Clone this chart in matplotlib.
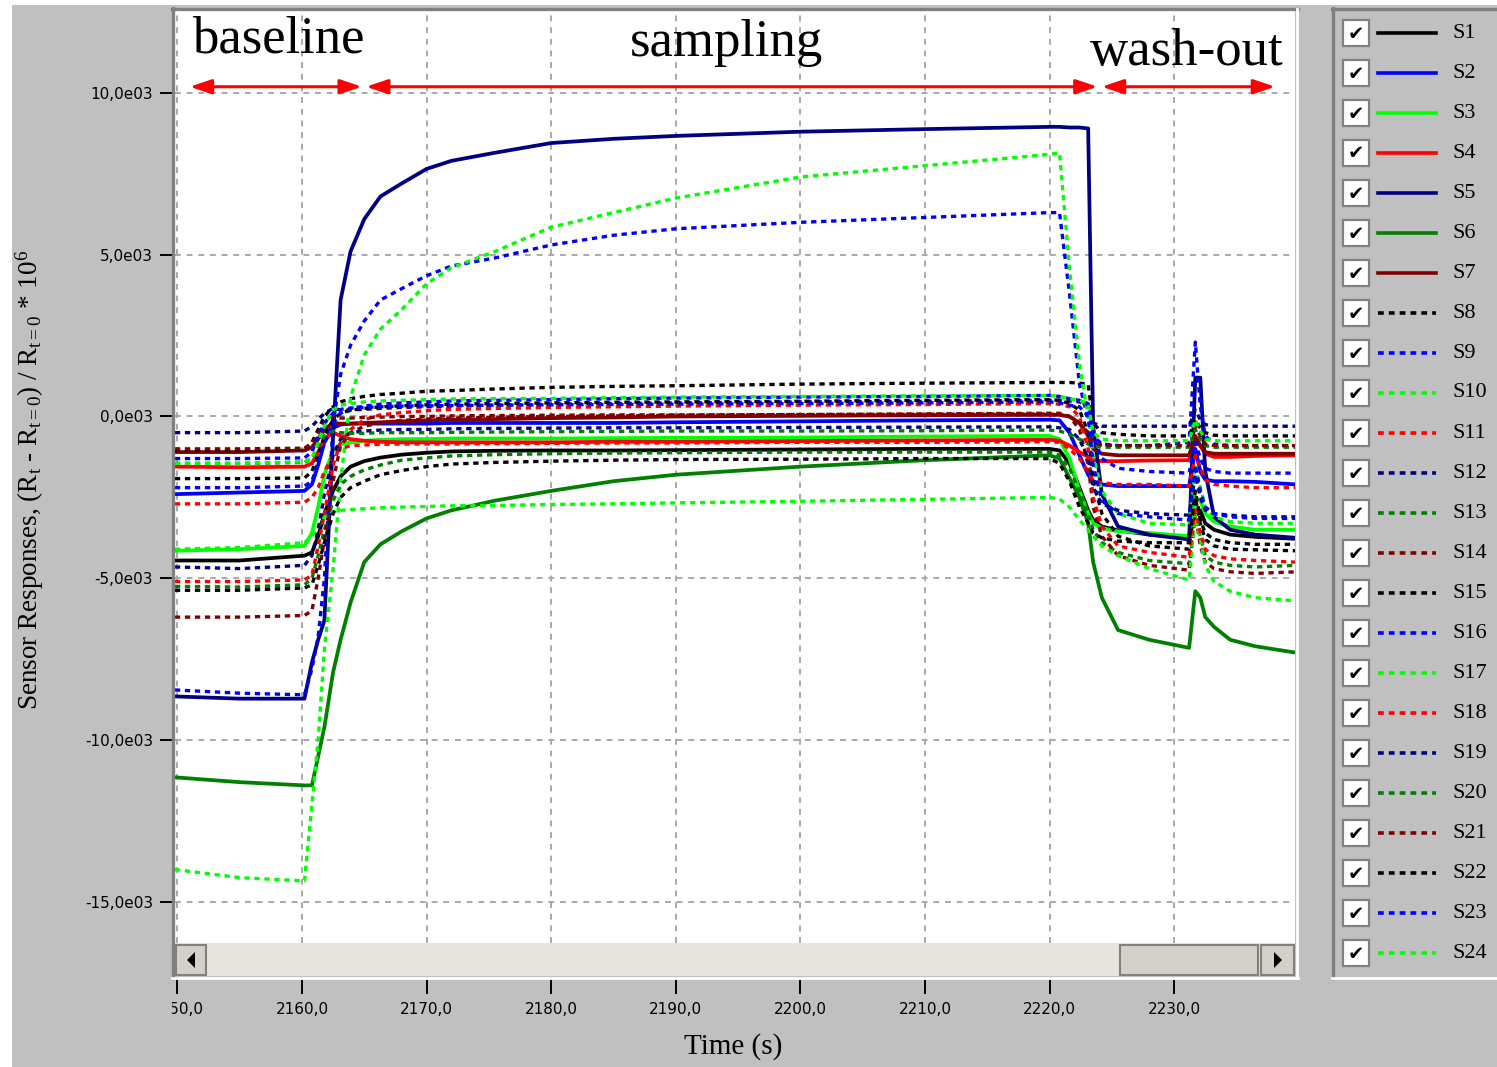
import matplotlib
matplotlib.use("Agg")
import matplotlib.pyplot as plt
import matplotlib.transforms as mtransforms
from matplotlib.patches import Rectangle, Polygon, ArrowStyle
from matplotlib.lines import Line2D
from matplotlib.text import Text

plt.rcParams['mathtext.fontset'] = 'custom'
plt.rcParams['mathtext.rm'] = 'Liberation Serif'
plt.rcParams['mathtext.it'] = 'Liberation Serif:italic'

# time (s) and sensor responses (units of 1e03)
t = [2149.8, 2155.0, 2160.2, 2160.8, 2161.3, 2161.8, 2162.5, 2163.1, 2163.9, 2165.0,
     2166.3, 2168.0, 2170.0, 2172.0, 2175.5, 2180.0, 2185.0, 2190.0, 2200.0, 2210.0,
     2220.0, 2220.8, 2221.6, 2222.4, 2223.1, 2223.5, 2224.2, 2225.5, 2228.0, 2231.2,
     2231.7, 2232.1, 2232.5, 2233.2, 2234.5, 2236.5, 2239.8]

s1 = [-4.45, -4.45, -4.3, -4.2, -3.7, -3.0, -2.3, -1.85, -1.55, -1.38, -1.27, -1.18, -1.12,
      -1.08, -1.06, -1.05, -1.05, -1.04, -1.02, -1.0, -1.0, -1.05, -1.45, -2.2, -2.9, -3.2,
      -3.4, -3.52, -3.65, -3.75, -3.0, -2.9, -3.3, -3.5, -3.65, -3.72, -3.78]
s2 = [-2.4, -2.35, -2.3, -2.1, -1.5, -0.8, -0.35, -0.25, -0.22, -0.22, -0.22, -0.22, -0.22,
      -0.2, -0.2, -0.2, -0.2, -0.18, -0.15, -0.12, -0.1, -0.12, -0.5, -1.2, -1.8, -2.0,
      -2.1, -2.15, -2.15, -2.15, -1.0, -1.7, -1.95, -2.0, -2.0, -2.02, -2.1]
s3 = [-4.15, -4.1, -4.0, -3.6, -2.8, -1.8, -1.05, -0.85, -0.8, -0.75, -0.72, -0.7, -0.7,
      -0.68, -0.68, -0.68, -0.67, -0.66, -0.65, -0.62, -0.6, -0.7, -1.3, -2.3, -3.0, -3.3,
      -3.45, -3.55, -3.6, -3.7, -2.5, -2.6, -3.0, -3.25, -3.4, -3.5, -3.5]
s4 = [-1.55, -1.57, -1.55, -1.45, -1.1, -0.7, -0.5, -0.6, -0.7, -0.75, -0.78, -0.8, -0.8,
      -0.8, -0.8, -0.8, -0.78, -0.78, -0.76, -0.74, -0.72, -0.75, -0.9, -1.1, -1.25, -1.35,
      -1.38, -1.38, -1.36, -1.35, -0.7, -0.9, -1.15, -1.25, -1.25, -1.22, -1.2]
s5 = [-8.65, -8.72, -8.72, -7.6, -6.9, -6.3, -0.6, 3.6, 5.1, 6.1, 6.8, 7.2, 7.65,
      7.9, 8.15, 8.45, 8.58, 8.67, 8.8, 8.88, 8.95, 8.95, 8.93, 8.93, 8.9, -0.3,
      -2.4, -3.4, -3.65, -3.8, 1.2, 1.2, -1.7, -3.1, -3.5, -3.65, -3.75]
s6 = [-11.15, -11.3, -11.4, -11.4, -10.5, -9.6, -7.9, -6.9, -5.75, -4.5, -3.95, -3.55, -3.15,
      -2.9, -2.6, -2.3, -2.0, -1.8, -1.55, -1.35, -1.2, -1.3, -1.9, -2.5, -3.3, -4.5,
      -5.6, -6.6, -6.9, -7.15, -5.4, -5.6, -6.2, -6.5, -6.9, -7.1, -7.3]
s7 = [-1.1, -1.1, -1.05, -0.95, -0.7, -0.4, -0.2, -0.22, -0.22, -0.2, -0.18, -0.15, -0.12,
      -0.1, -0.08, -0.05, -0.03, 0.0, 0.02, 0.04, 0.05, 0.05, 0.0, -0.2, -0.6, -1.0,
      -1.15, -1.2, -1.2, -1.2, -0.6, -0.9, -1.1, -1.15, -1.15, -1.15, -1.15]
s8 = [-1.05, -1.05, -1.0, -0.8, -0.4, 0.0, 0.3, 0.45, 0.55, 0.62, 0.68, 0.72, 0.78,
      0.8, 0.85, 0.9, 0.93, 0.95, 1.0, 1.03, 1.05, 1.05, 1.05, 1.03, 1.0, -0.2,
      -0.5, -0.55, -0.6, -0.6, -0.1, -0.35, -0.5, -0.58, -0.6, -0.6, -0.6]
s9 = [-8.45, -8.55, -8.6, -7.8, -6.8, -5.0, -0.2, 1.3, 2.2, 2.95, 3.6, 3.95, 4.35,
      4.65, 4.9, 5.3, 5.6, 5.8, 6.0, 6.15, 6.3, 6.3, 3.8, 1.0, -0.1, -0.6,
      -0.85, -0.9, -0.9, -0.8, 2.3, 0.3, -0.6, -0.85, -0.9, -0.9, -0.9]
s10 = [-14.0, -14.25, -14.35, -12.0, -10.0, -7.2, -4.7, -2.0, 0.6, 1.9, 2.7, 3.3, 4.1,
       4.6, 5.1, 5.85, 6.3, 6.75, 7.4, 7.75, 8.1, 8.15, 4.6, 1.6, 0.0, -1.2,
       -2.3, -3.0, -3.3, -3.35, -1.5, -2.2, -2.8, -3.1, -3.25, -3.3, -3.3]
s11 = [-2.7, -2.7, -2.65, -2.5, -2.2, -1.7, -1.2, -1.0, -0.9, -0.88, -0.86, -0.85, -0.85,
       -0.85, -0.84, -0.83, -0.82, -0.82, -0.8, -0.8, -0.78, -0.8, -1.0, -1.3, -1.7, -1.95,
       -2.05, -2.1, -2.1, -2.15, -1.2, -1.6, -1.95, -2.1, -2.15, -2.2, -2.2]
s12 = [-0.5, -0.5, -0.45, -0.3, -0.1, 0.1, 0.25, 0.2, 0.2, 0.22, 0.25, 0.28, 0.3,
       0.32, 0.35, 0.38, 0.4, 0.42, 0.45, 0.47, 0.5, 0.5, 0.48, 0.45, 0.35, -0.2,
       -0.3, -0.3, -0.3, -0.3, 0.2, -0.1, -0.25, -0.3, -0.3, -0.3, -0.3]
s13 = [-5.25, -5.27, -5.2, -5.0, -4.3, -3.5, -2.6, -2.1, -1.85, -1.65, -1.5, -1.35, -1.28,
       -1.22, -1.18, -1.15, -1.13, -1.12, -1.1, -1.1, -1.1, -1.2, -1.6, -2.3, -3.0, -3.5,
       -3.9, -4.2, -4.45, -4.55, -3.0, -3.7, -4.3, -4.5, -4.6, -4.65, -4.6]
s14 = [-6.2, -6.2, -6.15, -6.0, -5.0, -3.8, -2.0, -0.9, -0.5, -0.3, -0.2, -0.12, -0.08,
       -0.05, -0.02, 0.0, 0.02, 0.04, 0.06, 0.08, 0.1, 0.1, 0.0, -0.4, -1.5, -2.8,
       -3.7, -4.3, -4.6, -4.75, -3.0, -4.0, -4.5, -4.7, -4.8, -4.85, -4.8]
s15 = [-1.92, -1.92, -1.9, -1.7, -1.2, -0.6, -0.1, 0.1, 0.2, 0.25, 0.3, 0.33, 0.36,
       0.38, 0.4, 0.42, 0.44, 0.45, 0.47, 0.5, 0.52, 0.5, 0.4, 0.2, -0.5, -2.0,
       -3.0, -3.7, -4.0, -4.1, -2.5, -3.3, -3.8, -4.0, -4.1, -4.12, -4.15]
s16 = [-2.2, -2.2, -2.15, -2.0, -1.4, -0.8, -0.2, 0.1, 0.25, 0.32, 0.38, 0.42, 0.45,
       0.48, 0.5, 0.52, 0.55, 0.57, 0.6, 0.62, 0.65, 0.62, 0.55, 0.5, 0.4, -0.6,
       -1.3, -1.6, -1.7, -1.75, -0.8, -1.3, -1.6, -1.7, -1.75, -1.75, -1.75]
s17 = [-4.1, -4.05, -3.9, -3.7, -3.4, -3.1, -2.95, -2.9, -2.88, -2.85, -2.82, -2.8, -2.78,
       -2.76, -2.75, -2.72, -2.7, -2.67, -2.62, -2.56, -2.5, -2.55, -2.8, -3.2, -3.5, -3.7,
       -4.0, -4.3, -4.7, -5.05, -3.0, -3.8, -4.6, -5.1, -5.4, -5.6, -5.7]
s18 = [-5.1, -5.1, -5.05, -4.9, -4.0, -3.0, -1.5, -0.8, -0.4, -0.1, 0.05, 0.12, 0.18,
       0.22, 0.25, 0.28, 0.3, 0.32, 0.35, 0.37, 0.4, 0.38, 0.3, 0.0, -1.0, -2.5,
       -3.4, -4.0, -4.2, -4.35, -2.8, -3.6, -4.1, -4.3, -4.4, -4.45, -4.5]
s19 = [-4.65, -4.7, -4.6, -4.3, -3.5, -2.4, -1.2, -0.7, -0.5, -0.45, -0.42, -0.4, -0.4,
       -0.38, -0.37, -0.36, -0.35, -0.35, -0.34, -0.33, -0.32, -0.35, -0.4, -0.7, -1.3, -2.2,
       -2.7, -2.9, -3.0, -3.05, -1.8, -2.5, -2.9, -3.0, -3.05, -3.1, -3.1]
s20 = [-1.45, -1.45, -1.42, -1.3, -0.9, -0.6, -0.45, -0.5, -0.52, -0.52, -0.5, -0.5, -0.5,
       -0.49, -0.48, -0.47, -0.46, -0.45, -0.45, -0.44, -0.42, -0.45, -0.55, -0.7, -0.85, -0.92,
       -0.95, -0.95, -0.95, -0.95, -0.4, -0.7, -0.9, -0.95, -0.95, -0.95, -0.95]
s21 = [-1.0, -1.0, -0.98, -0.85, -0.5, -0.2, 0.0, -0.05, -0.05, -0.03, -0.02, 0.0, 0.0,
       0.02, 0.03, 0.04, 0.05, 0.05, 0.06, 0.07, 0.08, 0.05, 0.0, -0.2, -0.5, -0.8,
       -0.88, -0.9, -0.9, -0.9, -0.3, -0.6, -0.85, -0.9, -0.9, -0.9, -0.9]
s22 = [-5.37, -5.37, -5.3, -5.2, -4.6, -3.9, -3.0, -2.5, -2.2, -2.0, -1.8, -1.67, -1.55,
       -1.47, -1.42, -1.38, -1.35, -1.33, -1.32, -1.3, -1.3, -1.45, -2.0, -2.8, -3.3, -3.6,
       -3.75, -3.85, -3.9, -3.9, -2.3, -3.2, -3.6, -3.8, -3.9, -3.95, -3.95]
s23 = [-1.3, -1.3, -1.28, -1.1, -0.6, -0.2, 0.1, 0.22, 0.26, 0.28, 0.3, 0.32, 0.33,
       0.34, 0.35, 0.36, 0.37, 0.38, 0.4, 0.42, 0.45, 0.42, 0.35, 0.3, 0.0, -1.5,
       -2.6, -3.0, -3.1, -3.2, -1.5, -2.3, -2.8, -3.0, -3.1, -3.15, -3.15]
s24 = [-1.45, -1.45, -1.4, -1.3, -0.8, -0.3, 0.2, 0.35, 0.4, 0.45, 0.48, 0.5, 0.52,
       0.54, 0.55, 0.56, 0.58, 0.6, 0.62, 0.64, 0.65, 0.62, 0.55, 0.5, 0.4, -0.5,
       -0.7, -0.75, -0.75, -0.75, -0.1, -0.45, -0.7, -0.75, -0.75, -0.75, -0.75]

sensors = [s1, s2, s3, s4, s5, s6, s7, s8, s9, s10, s11, s12,
           s13, s14, s15, s16, s17, s18, s19, s20, s21, s22, s23, s24]
names = ['S%d' % (i + 1) for i in range(24)]
palette = ['#000000', '#0000ff', '#00ff00', '#ff0000', '#000080', '#008000', '#800000']
colours = (palette * 4)[:24]
dotted = (0, (1.6, 1.4))
styles = ['-'] * 7 + [dotted] * 17

xticks = [2150, 2160, 2170, 2180, 2190, 2200, 2210, 2220, 2230]
yticks = [-15, -10, -5, 0, 5, 10]

phases = ['baseline', 'sampling', 'wash-out']
phase_start = [2151.0, 2165.15, 2224.2]
phase_end = [2164.8, 2223.85, 2238.1]
phase_text_x = [2158.1, 2194.1, 2231.0]
phase_text_y = [11.25, 11.15, 10.85]
arrow_y = 10.19

W, H = 1497, 1067
def fx(p):
    return p / W
def fy(p):
    return 1 - p / H

fig = plt.figure(figsize=(W / 100, H / 100), dpi=100, facecolor='#c0c0c0')

# white margins of the screenshot
fig.add_artist(Rectangle((0, 0), fx(12), 1, transform=fig.transFigure,
                         fc='white', ec='none', zorder=0))
fig.add_artist(Rectangle((0, fy(5)), 1, 5 / H, transform=fig.transFigure,
                         fc='white', ec='none', zorder=0))

# main plot
ax = fig.add_axes([fx(175), fy(943), 1120 / W, 932 / H])
ax.set_facecolor('white')
for i, vals in enumerate(sensors):
    ax.plot(t, vals, color=colours[i], linestyle=styles[i],
            lw=2.7 if i < 7 else 2.4)
ax.set_xlim(2149.81, 2239.70)
ax.set_ylim(-16.27, 12.53)
ax.set_xticks(xticks)
ax.set_yticks(yticks)
ax.set_yticklabels([('%.1fe03' % v).replace('.', ',') for v in yticks])
ax.tick_params(axis='x', length=0, labelbottom=False)
ax.tick_params(axis='y', direction='out', length=10.8, width=1.4, pad=5,
               labelsize=11, colors='black')
ax.grid(True, color='#a8a8a8', linestyle=(0, (3, 3)), linewidth=1.4)
ax.set_axisbelow(True)
for sp in ax.spines.values():
    sp.set_visible(False)

arrow = ArrowStyle('<|-|>', head_length=0.65, head_width=0.22)
for name, a, b, tx, ty in zip(phases, phase_start, phase_end, phase_text_x, phase_text_y):
    ax.annotate('', xy=(b, arrow_y), xytext=(a, arrow_y),
                arrowprops=dict(arrowstyle=arrow, color='red', lw=2.2,
                                shrinkA=0, shrinkB=0, mutation_scale=20))
    ax.text(tx, ty, name, ha='center', va='baseline', fontsize=38,
            family='Liberation Serif')

# scroll bar under the plot
sb = fig.add_axes([fx(175), fy(976), 1120 / W, 33 / H])
sb.set_xlim(175, 1295)
sb.set_ylim(976, 943)
sb.axis('off')
sb.add_patch(Rectangle((175, 943), 1120, 33, fc='#e6e4de', ec='none'))
sb.add_patch(Rectangle((176, 945), 30, 30, fc='#d4d0c8', ec='#808080', lw=1.5))
sb.add_patch(Polygon([(195, 952), (195, 968), (187, 960)], fc='black'))
sb.add_patch(Rectangle((1120, 945), 138, 30, fc='#d4d0c8', ec='#808080', lw=1.5))
sb.add_patch(Rectangle((1261, 945), 33, 30, fc='#d4d0c8', ec='#808080', lw=1.5))
sb.add_patch(Polygon([(1274, 952), (1274, 968), (1282, 960)], fc='black'))

# plot frame (3D look)
fig.add_artist(Line2D([fx(173), fx(173)], [fy(8), fy(978)], transform=fig.transFigure,
                      color='#808080', lw=2.4, zorder=5))
fig.add_artist(Line2D([fx(172), fx(1298)], [fy(9), fy(9)], transform=fig.transFigure,
                      color='#808080', lw=2.4, zorder=5))
fig.add_artist(Line2D([fx(1297), fx(1297)], [fy(9), fy(978)], transform=fig.transFigure,
                      color='white', lw=2.0, zorder=5))
fig.add_artist(Line2D([fx(172), fx(1298)], [fy(978), fy(978)], transform=fig.transFigure,
                      color='white', lw=2.0, zorder=5))

# time axis below the scroll bar
ax_t = fig.add_axes([fx(175), fy(980), 1120 / W, 0.0005])
ax_t.set_xlim(ax.get_xlim())
ax_t.set_xticks(xticks)
ax_t.set_yticks([])
ax_t.patch.set_visible(False)
for sp in ax_t.spines.values():
    sp.set_visible(False)
ax_t.tick_params(axis='x', direction='out', length=10, width=1.4,
                 labelbottom=False, colors='black')
blend = mtransforms.blended_transform_factory(ax_t.transData, fig.transFigure)
clip = mtransforms.TransformedBbox(
    mtransforms.Bbox.from_extents(fx(172), 0, fx(1300), 1), fig.transFigure)
for v in xticks:
    lab = Text(v, fy(1009), ('%.1f' % v).replace('.', ','), transform=blend,
               ha='center', va='center', fontsize=11, family='DejaVu Sans')
    fig.add_artist(lab)
    lab.set_clip_on(True)
    lab.set_clip_box(clip)

fig.text(fx(733), fy(1047), 'Time (s)', ha='center', va='center', fontsize=21,
         family='Liberation Serif')
fig.text(fx(30), fy(480),
         r'Sensor Responses, (R$_\mathrm{t}$ - R$_\mathrm{t=0}$) / R$_\mathrm{t=0}$ * 10$^6$',
         rotation=90, ha='center', va='center', fontsize=19.5, family='Liberation Serif')

# legend panel with check boxes
fig.add_artist(Line2D([fx(1333), fx(1333)], [fy(8), fy(978)], transform=fig.transFigure,
                      color='#808080', lw=2.4))
fig.add_artist(Line2D([fx(1332), fx(1497)], [fy(9), fy(9)], transform=fig.transFigure,
                      color='#808080', lw=2.4))
fig.add_artist(Line2D([fx(1332), fx(1497)], [fy(978), fy(978)], transform=fig.transFigure,
                      color='white', lw=2.0))
for i, name in enumerate(names):
    yc = 33 + 40 * i
    fig.add_artist(Rectangle((fx(1343), fy(yc + 13)), 26 / W, 26 / H,
                             transform=fig.transFigure, fc='white', ec='#808080', lw=1.6))
    fig.text(fx(1356), fy(yc + 1), '\u2714', ha='center', va='center', fontsize=14,
             family='DejaVu Sans', color='black')
    fig.add_artist(Line2D([fx(1378), fx(1436)], [fy(yc), fy(yc)], transform=fig.transFigure,
                          color=colours[i], linestyle=styles[i], lw=2.6))
    fig.text(fx(1452), fy(yc), name, ha='left', va='center', fontsize=16,
             family='Liberation Serif')

fig.savefig('out.png', dpi=100, facecolor=fig.get_facecolor())
